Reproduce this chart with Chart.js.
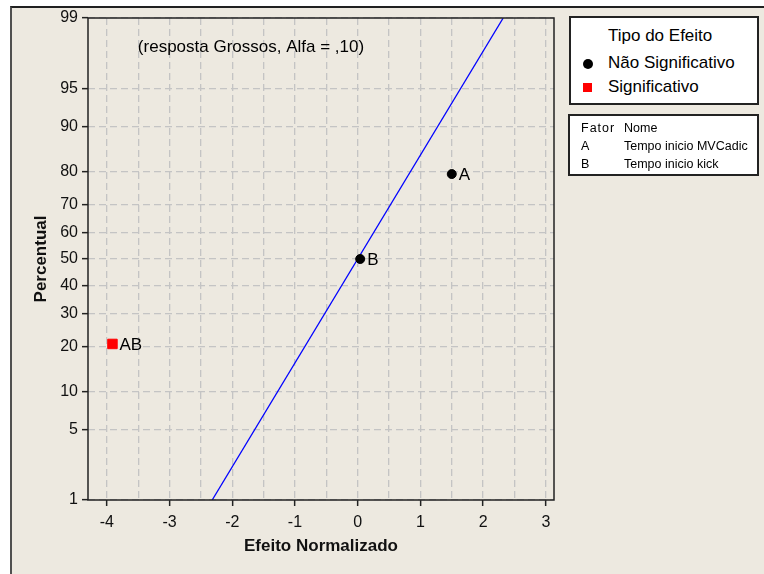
<!DOCTYPE html>
<html>
<head>
<meta charset="utf-8">
<script src="https://cdn.jsdelivr.net/npm/chart.js@4.4.1/dist/chart.umd.min.js"></script>
<style>
  body { margin: 0; background: #fff; }
  #frame {
    position: absolute; left: 10px; top: 6px; width: 754px; height: 568px;
    background: #ede9e0; border-left: 2px solid #505050; border-top: 2px solid #202020;
  }
  #chart { position: absolute; left: 0; top: 0; }
  .box {
    position: absolute; background: #fff; border: 2px solid #222;
    font-family: "Liberation Sans Narrow", "Arial Narrow", sans-serif; color: #000;
  }
  #legend1 { left: 569px; top: 16px; width: 186px; height: 85px; font-size: 17px; }
  #legend1 .title { position: absolute; left: 37px; top: 8px; }
  #legend1 .row { position: absolute; left: 37px; }
  #legend1 .dot { position: absolute; left: 12px; top: 6px; width: 10px; height: 10px; border-radius: 50%; background: #000; }
  #legend1 .sq { position: absolute; left: 12px; top: 6px; width: 9px; height: 9px; background: #f00; }
  #legend2 { left: 568px; top: 114px; width: 187px; height: 58px; font-size: 12.5px; font-family: "Liberation Sans", Arial, sans-serif; }
  #legend2 div { position: absolute; }
</style>
</head>
<body>
<div id="frame"></div>
<canvas id="chart" width="764" height="574"></canvas>
<div class="box" id="legend1">
  <div class="title">Tipo do Efeito</div>
  <div class="row" style="top:35px"><span class="dot" style="left:-25px"></span>Não Significativo</div>
  <div class="row" style="top:59px"><span class="sq" style="left:-25px"></span>Significativo</div>
</div>
<div class="box" id="legend2">
  <div style="left:11px;top:5px;letter-spacing:1px">Fator</div><div style="left:54px;top:5px">Nome</div>
  <div style="left:11px;top:23px">A</div><div style="left:54px;top:23px">Tempo inicio MVCadic</div>
  <div style="left:11px;top:41px">B</div><div style="left:54px;top:41px">Tempo inicio kick</div>
</div>
<script>
// effects
const effectLabels = ['A', 'B', 'AB'];
const effectValues = [1.50, 0.04, -3.91];
const effectPercents = [79.4, 50, 20.6];
const effectSignificant = [false, false, true];

// fitted reference line (ends at 1% and 99%)
const lineEffects = [-2.32, 2.32];
const linePercents = [1, 99];

const yTickPercents = [1, 5, 10, 20, 30, 40, 50, 60, 70, 80, 90, 95, 99];
const xTickValues = [-4, -3.5, -3, -2.5, -2, -1.5, -1, -0.5, 0, 0.5, 1, 1.5, 2, 2.5, 3];

const NARROW = '"Liberation Sans Narrow", "Arial Narrow", sans-serif';

// inverse normal cdf (Abramowitz & Stegun 26.2.23)
function probit(p) {
    const q = p < 0.5 ? p : 1 - p;
    const t = Math.sqrt(-2 * Math.log(q));
    const z = t - (2.515517 + 0.802853 * t + 0.010328 * t * t) /
        (1 + 1.432788 * t + 0.189269 * t * t + 0.001308 * t * t * t);
    return p < 0.5 ? -z : z;
}

function pointsFor(sig) {
    const pts = [];
    effectValues.forEach((v, i) => {
        if (effectSignificant[i] === sig) {
            pts.push({ x: v, y: probit(effectPercents[i] / 100), label: effectLabels[i] });
        }
    });
    return pts;
}

const boxAndLabels = {
    id: 'boxAndLabels',
    afterDatasetsDraw(chart) {
        const { ctx, chartArea: a } = chart;
        ctx.save();
        ctx.strokeStyle = '#222';
        ctx.lineWidth = 1.5;
        ctx.strokeRect(a.left, a.top, a.right - a.left, a.bottom - a.top);

        ctx.fillStyle = '#000';
        ctx.font = '17px ' + NARROW;
        ctx.textBaseline = 'middle';
        ctx.textAlign = 'left';
        chart.data.datasets.forEach((ds, di) => {
            if (!ds.showLabels) return;
            const meta = chart.getDatasetMeta(di);
            meta.data.forEach((el, i) => {
                ctx.fillText(ds.data[i].label, el.x + 7, el.y + 1);
            });
        });

        ctx.textAlign = 'center';
        ctx.fillText('(resposta Grossos, Alfa = ,10)', a.left + 163, a.top + 29);
        ctx.restore();
    }
};

new Chart(document.getElementById('chart'), {
    type: 'scatter',
    data: {
        datasets: [
            {
                label: 'Não Significativo',
                data: pointsFor(false),
                backgroundColor: '#000',
                borderColor: '#000',
                pointRadius: 4.5,
                pointHoverRadius: 4.5,
                showLabels: true
            },
            {
                label: 'Significativo',
                data: pointsFor(true),
                backgroundColor: '#f00',
                borderColor: '#f00',
                pointStyle: 'rect',
                pointRadius: 6.7,
                pointHoverRadius: 6.7,
                showLabels: true
            },
            {
                type: 'line',
                label: 'Ajuste',
                data: lineEffects.map((x, i) => ({ x: x, y: probit(linePercents[i] / 100) })),
                borderColor: '#0000ff',
                borderWidth: 1.3,
                pointRadius: 0,
                fill: false
            }
        ]
    },
    options: {
        responsive: false,
        devicePixelRatio: 1,
        animation: false,
        layout: { padding: { left: 0, top: 18, right: 210, bottom: 0 } },
        plugins: { legend: { display: false }, tooltip: { enabled: false } },
        scales: {
            x: {
                type: 'linear',
                min: -4.3,
                max: 3.13,
                afterBuildTicks: scale => { scale.ticks = xTickValues.map(v => ({ value: v })); },
                afterFit: scale => { scale.height = 74; },
                ticks: {
                    color: '#111',
                    font: { family: NARROW, size: 16 },
                    padding: 7,
                    maxRotation: 0,
                    autoSkip: false,
                    callback: v => Number.isInteger(v) ? String(v) : ''
                },
                grid: {
                    color: '#c4c4c4',
                    lineWidth: 1.3,
                    tickLength: 6,
                    tickColor: ctx => Number.isInteger(ctx.tick.value) ? '#222' : 'rgba(0,0,0,0)',
                    tickWidth: 1.5
                },
                border: { display: false, dash: [7, 4] },
                title: {
                    display: true,
                    text: 'Efeito Normalizado',
                    color: '#111',
                    font: { family: '"Liberation Sans", Arial, sans-serif', size: 17, weight: 'bold' },
                    padding: { top: 0, bottom: 17 }
                }
            },
            y: {
                type: 'linear',
                min: probit(0.01),
                max: probit(0.99),
                afterBuildTicks: scale => { scale.ticks = yTickPercents.map(p => ({ value: probit(p / 100) })); },
                afterFit: scale => { scale.width = 88; },
                ticks: {
                    color: '#111',
                    font: { family: NARROW, size: 16 },
                    padding: 4,
                    autoSkip: false,
                    callback: (v, i) => String(yTickPercents[i])
                },
                grid: {
                    color: '#c4c4c4',
                    lineWidth: 1.3,
                    tickLength: 6,
                    tickColor: '#222',
                    tickWidth: 1.5
                },
                border: { display: false, dash: [7, 4] },
                title: {
                    display: true,
                    text: 'Percentual',
                    color: '#111',
                    font: { family: '"Liberation Sans", Arial, sans-serif', size: 17, weight: 'bold' },
                    padding: { top: 31, bottom: 0 }
                }
            }
        }
    },
    plugins: [boxAndLabels]
});
</script>
</body>
</html>
